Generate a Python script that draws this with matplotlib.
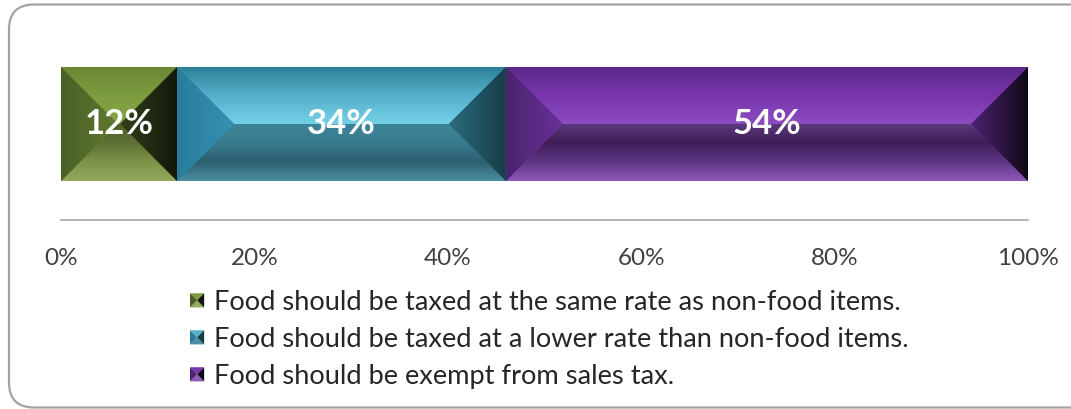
import numpy as np
import matplotlib
matplotlib.use("Agg")
import matplotlib.pyplot as plt
from matplotlib.colors import LinearSegmentedColormap
from matplotlib.patches import Polygon, FancyBboxPatch
from matplotlib.legend_handler import HandlerBase

plt.rcParams['font.family'] = ['Lato', 'DejaVu Sans']

categories = [
    "Food should be taxed at the same rate as non-food items.",
    "Food should be taxed at a lower rate than non-food items.",
    "Food should be exempt from sales tax.",
]
values = [12, 34, 54]
value_labels = ["12%", "34%", "54%"]
ticks = [0, 20, 40, 60, 80, 100]
tick_labels = ["0%", "20%", "40%", "60%", "80%", "100%"]

# bevel facet colours per series: top (edge->ridge), bottom (ridge->edge),
# left (edge->centre), right (centre->edge), base
styles = [
    dict(top=["#6a8734", "#7c9c3f", "#86a646"],
         bottom=["#4c5c2a", "#5d7034", "#7b9247", "#93aa5e"],
         left=["#4a5f26", "#5f7a30"],
         right=["#33401a", "#12170a"],
         base="#76963c"),
    dict(top=["#2b8099", "#55afc8", "#74d0e8"],
         bottom=["#3c8497", "#3a7c8f", "#2b5f6e", "#4d8ea2"],
         left=["#2a7c9c", "#3592b2"],
         right=["#2a6c7e", "#173c47"],
         base="#3b8da6"),
    dict(top=["#5c2889", "#7835ab", "#8d4cc2"],
         bottom=["#5d3b80", "#3e1d57", "#5e3584", "#8e5ab8"],
         left=["#4a246e", "#6a3099"],
         right=["#4b2472", "#110716"],
         base="#6e34a0"),
]

fig = plt.figure(figsize=(10.71, 4.09), dpi=100)

# rounded chart frame (right side runs off the picture)
frame = FancyBboxPatch((0.09, 0.015), 10.9, 4.03,
                       boxstyle="round,pad=0,rounding_size=0.25",
                       transform=fig.dpi_scale_trans, facecolor="white",
                       edgecolor="#a3a3a3", linewidth=1.6, zorder=-1)
fig.patches.append(frame)

ax = fig.add_axes([61 / 1071, (409 - 220) / 409, 967 / 1071, 180 / 409])
ax.set_facecolor("none")

bars = ax.barh([0], [values[0]], height=0.6, color=styles[0]["base"], zorder=2)
containers = [bars]
left = values[0]
for v, st in zip(values[1:], styles[1:]):
    c = ax.barh([0], [v], left=left, height=0.6, color=st["base"], zorder=2)
    containers.append(c)
    left += v

ax.set_xlim(0, 100)
ax.set_ylim(-0.505, 0.442)


def grad_fill(pts, extent, colors, vertical=True):
    cmap = LinearSegmentedColormap.from_list("g", colors)
    g = np.linspace(0, 1, 256)
    img = g.reshape(-1, 1) if vertical else g.reshape(1, -1)
    im = ax.imshow(img, cmap=cmap, extent=extent, aspect="auto",
                   origin="upper", interpolation="bilinear", zorder=3)
    poly = Polygon(pts, closed=True, facecolor="none", edgecolor="none",
                   transform=ax.transData)
    ax.add_patch(poly)
    im.set_clip_path(poly)


inv = ax.transData.inverted()
for c, st in zip(containers, styles):
    p = c.patches[0]
    x0, y0 = p.get_x(), p.get_y()
    x1, y1 = x0 + p.get_width(), y0 + p.get_height()
    (px0, py0), (px1, py1) = ax.transData.transform([(x0, y0), (x1, y1)])
    d = (py1 - py0) / 2
    pxl, pxr = px0 + d, px1 - d
    if pxl > pxr:
        pxl = pxr = (px0 + px1) / 2
    xl = inv.transform((pxl, 0))[0]
    xr = inv.transform((pxr, 0))[0]
    ym = (y0 + y1) / 2
    grad_fill([(x0, y1), (x1, y1), (xr, ym), (xl, ym)], (x0, x1, ym, y1), st["top"])
    grad_fill([(x0, y0), (x1, y0), (xr, ym), (xl, ym)], (x0, x1, y0, ym), st["bottom"])
    grad_fill([(x0, y0), (x0, y1), (xl, ym)], (x0, max(xl, x0 + 1e-6), y0, y1),
              st["left"], vertical=False)
    grad_fill([(x1, y0), (x1, y1), (xr, ym)], (min(xr, x1 - 1e-6), x1, y0, y1),
              st["right"], vertical=False)

for c, lab in zip(containers, value_labels):
    for t in ax.bar_label(c, labels=[lab], label_type="center", color="white",
                          fontsize=25, fontweight="bold"):
        t.set_zorder(6)

ax.set_xlim(0, 100)
ax.set_ylim(-0.505, 0.442)
ax.set_xticks(ticks)
ax.set_xticklabels(tick_labels)
ax.set_yticks([])
ax.tick_params(axis="x", length=0, pad=20, labelsize=17.5, labelcolor="#404040")
for s in ["top", "right", "left"]:
    ax.spines[s].set_visible(False)
ax.spines["bottom"].set_color("#a6a6a6")
ax.spines["bottom"].set_linewidth(1.2)


class BevelHandler(HandlerBase):
    def __init__(self, st):
        super().__init__()
        self.st = st

    def create_artists(self, legend, orig_handle, xdescent, ydescent,
                       width, height, fontsize, trans):
        s = min(width, height)
        x0, y0 = -xdescent, -ydescent + (height - s) / 2
        cx, cy = x0 + s / 2, y0 + s / 2
        st = self.st
        tris = [
            ([(x0, y0 + s), (x0 + s, y0 + s), (cx, cy)], st["top"][1]),
            ([(x0, y0), (x0 + s, y0), (cx, cy)], st["bottom"][-1]),
            ([(x0, y0), (x0, y0 + s), (cx, cy)], st["left"][0]),
            ([(x0 + s, y0), (x0 + s, y0 + s), (cx, cy)], st["right"][1]),
        ]
        return [Polygon(pts, closed=True, facecolor=col, edgecolor="none",
                        transform=trans) for pts, col in tris]


handles = [c.patches[0] for c in containers]
leg = ax.legend(handles, categories,
                handler_map={h: BevelHandler(st) for h, st in zip(handles, styles)},
                loc="upper left", bbox_to_anchor=(190 / 1071, (409 - 290) / 409),
                bbox_transform=fig.transFigure, frameon=False, fontsize=19.6,
                handlelength=0.52, handleheight=0.52, handletextpad=0.35,
                labelspacing=0.44, borderpad=0, borderaxespad=0)
for t in leg.get_texts():
    t.set_color("#262626")

fig.savefig("out.png", dpi=100)
